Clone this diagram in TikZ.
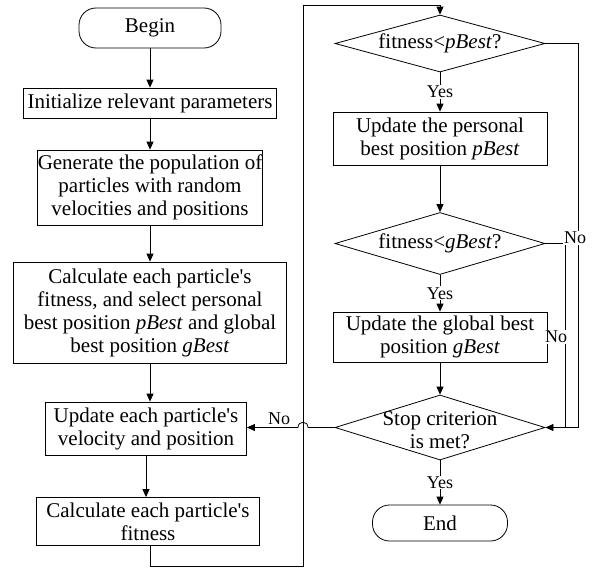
\documentclass[tikz,border=0pt]{standalone}
\usepackage{fontspec}
\setmainfont{Liberation Serif}
\usetikzlibrary{arrows.meta,shapes.geometric}
\begin{document}
\begin{tikzpicture}[x=1pt,y=-1pt,
 every node/.style={font=\fontsize{21pt}{23pt}\selectfont},
 box/.style={draw,line width=0.8pt,rectangle,inner sep=0pt,align=center},
 term/.style={draw,line width=0.8pt,rectangle,rounded corners=17pt,inner sep=0pt},
 dia/.style={draw,line width=0.8pt,diamond,inner sep=0pt},
 lbl/.style={font=\fontsize{18pt}{20pt}\selectfont,fill=white,inner sep=1pt},
 arr/.style={line width=0.8pt,-{Triangle[length=8pt,width=7pt]}},
 ln/.style={line width=0.8pt}]
\useasboundingbox (0,0) rectangle (602,570);
% left column
\node[term,minimum width=142pt,minimum height=40pt] (begin) at (150,28) {Begin};
\node[box,minimum width=253pt,minimum height=30pt] (init) at (150,103) {Initialize relevant parameters};
\node[box,minimum width=223pt,minimum height=75pt] (gen) at (150,187.5) {Generate the population of\\particles with random\\velocities and positions};
\node[box,minimum width=273pt,minimum height=101pt] (calc) at (150,312.5) {Calculate each particle\textquotesingle s\\fitness, and select personal\\best position \textit{pBest} and global\\best position \textit{gBest}};
\node[box,minimum width=201pt,minimum height=53pt] (upd) at (146,428.5) {Update each particle\textquotesingle s\\velocity and position};
\node[box,minimum width=223pt,minimum height=48pt] (cfit) at (148,521.5) {Calculate each particle\textquotesingle s\\fitness};
% right column
\node[dia,minimum width=210pt,minimum height=57pt] (pd) at (440,43.5) {};
\node (pdt) at (pd) {fitness<\textit{pBest}?};
\node[box,minimum width=214pt,minimum height=53pt] (pbox) at (440,138.5) {Update the personal\\best position \textit{pBest}};
\node[dia,minimum width=210pt,minimum height=62pt] (gd) at (440,243.5) {};
\node (gdt) at (gd) {fitness<\textit{gBest}?};
\node[box,minimum width=214pt,minimum height=50pt] (gbox) at (440,337) {Update the global best\\position \textit{gBest}};
\node[dia,minimum width=210pt,minimum height=65pt] (sd) at (440,427.5) {};
\node[align=center] (sdt) at (440,430) {Stop criterion\\is met?};
\node[term,minimum width=135pt,minimum height=36pt] (end) at (440,523) {End};
% coordinates
\coordinate (c1) at (150,566);
\coordinate (c2) at (303,566);
\coordinate (c3) at (303,5);
\coordinate (c4) at (440,5);
\coordinate (r1) at (578,43.5);
\coordinate (r2) at (578,427.5);
\coordinate (g1) at (565,243.5);
\coordinate (g2) at (565,427.5);
\coordinate (jr) at (308,427.5);
\coordinate (jl) at (298,427.5);
% left arrows
\draw[arr] (begin) -- (init);
\draw[arr] (init) -- (gen);
\draw[arr] (gen) -- (calc);
\draw[arr] (calc.south) -- (calc.south |- upd.north);
\draw[arr] (upd) -- (upd.south |- cfit.north);
% loop to right column
\draw[arr] (cfit.south -| c1) -- (c1) -- (c2) -- (c3) -- (c4) -- (pd.north);
% right column
\draw[arr] (pd.south) -- node[lbl] (y1) {Yes} (pbox.north);
\draw[arr] (pbox) -- (gd.north);
\draw[arr] (gd.south) -- node[lbl] (y2) {Yes} (gbox.north);
\draw[arr] (gbox) -- (sd.north);
\draw[arr] (sd.south) -- node[lbl] (y3) {Yes} (end.north);
\draw[arr] (pd.east) -- (r1) -- (r2) -- (sd.east);
\draw[ln] (gd.east) -- (g1) -- (g2);
\node[lbl] (n1) at (575,238) {No};
\node[lbl] (n2) at (556,337) {No};
% stop -> update with jump
\draw[arr] (sd.west) -- (jr) .. controls (308,420.5) and (298,420.5) .. (jl) -- (sd.west -| upd.east);
\node[lbl,fill=none] (n3) at (279,419) {No};
\end{tikzpicture}
\end{document}
